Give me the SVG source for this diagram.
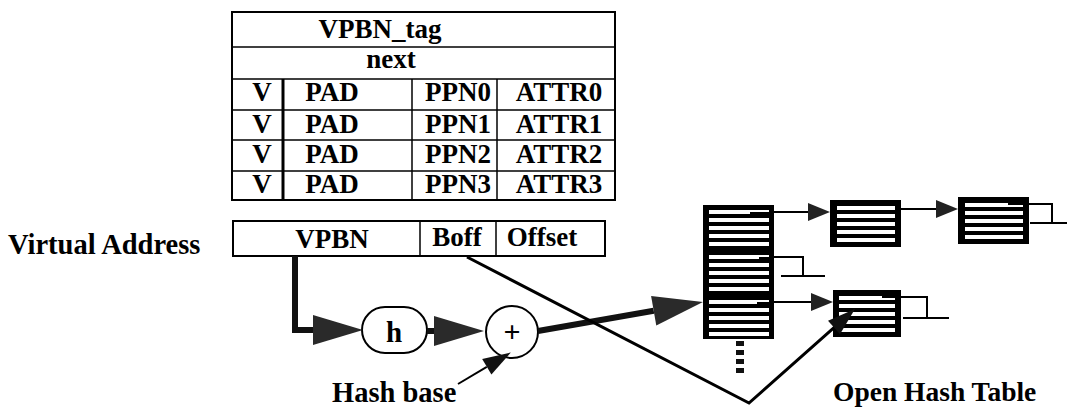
<svg xmlns="http://www.w3.org/2000/svg" width="1067" height="408" viewBox="0 0 1067 408">
  <style>
    .t { font-family: "Liberation Serif", "Times New Roman", serif; font-weight: bold; font-size: 27px; fill: #000; }
    .m { text-anchor: middle; }
    .box { fill: #fff; stroke: #000; stroke-width: 2; }
    .ln { fill: none; stroke: #000; stroke-width: 1.5; }
    .blk { fill: #000; }
    .str { fill: #fff; }
    .thick { fill: none; stroke: #111; stroke-width: 6; }
    .thin { fill: none; stroke: #000; stroke-width: 2; }
  </style>
  <defs>
    <marker id="bigArrow" markerUnits="userSpaceOnUse" markerWidth="50" markerHeight="30" refX="0" refY="15" orient="auto" overflow="visible">
      <path d="M0,0 L50,15 L0,30 Z" fill="#2a2a2a"/>
    </marker>
    <marker id="smallArrow" markerUnits="userSpaceOnUse" markerWidth="22" markerHeight="18" refX="0" refY="9" orient="auto" overflow="visible">
      <path d="M0,0 L22,9 L0,18 Z" fill="#222"/>
    </marker>
    <marker id="thinArrow" markerUnits="userSpaceOnUse" markerWidth="28" markerHeight="18" refX="0" refY="9" orient="auto" overflow="visible">
      <path d="M0,0 L28,9 L0,18 Z" fill="#111"/>
    </marker>
  </defs>

  <g id="pte-table">
    <rect class="box" x="232" y="12" width="383" height="188"/>
    <line class="ln" x1="232" y1="47" x2="615" y2="47"/>
    <line class="ln" x1="232" y1="79" x2="615" y2="79"/>
    <line class="ln" x1="232" y1="110" x2="615" y2="110"/>
    <line class="ln" x1="232" y1="140" x2="615" y2="140"/>
    <line class="ln" x1="232" y1="171" x2="615" y2="171"/>
    <line class="ln" x1="283" y1="79" x2="283" y2="200" style="stroke-width:3"/>
    <line class="ln" x1="412" y1="79" x2="412" y2="200"/>
    <line class="ln" x1="497" y1="79" x2="497" y2="200"/>
    <text class="t m" x="380" y="38">VPBN_tag</text>
    <text class="t m" x="391" y="68">next</text>
    <text class="t m" x="262" y="101">V</text>
    <text class="t m" x="332" y="101">PAD</text>
    <text class="t m" x="458" y="101">PPN0</text>
    <text class="t m" x="559" y="101">ATTR0</text>
    <text class="t m" x="262" y="133">V</text>
    <text class="t m" x="332" y="133">PAD</text>
    <text class="t m" x="458" y="133">PPN1</text>
    <text class="t m" x="559" y="133">ATTR1</text>
    <text class="t m" x="262" y="163">V</text>
    <text class="t m" x="332" y="163">PAD</text>
    <text class="t m" x="458" y="163">PPN2</text>
    <text class="t m" x="559" y="163">ATTR2</text>
    <text class="t m" x="262" y="193">V</text>
    <text class="t m" x="332" y="193">PAD</text>
    <text class="t m" x="458" y="193">PPN3</text>
    <text class="t m" x="559" y="193">ATTR3</text>
  </g>

  <g id="virtual-address-label">
    <text class="t" x="8" y="254" style="font-size:28.5px">Virtual Address</text>
  </g>

  <g id="virtual-address">
    <rect class="box" x="233" y="221" width="372" height="35"/>
    <line class="ln" x1="420" y1="221" x2="420" y2="256"/>
    <line class="ln" x1="496" y1="221" x2="496" y2="256"/>
    <text class="t m" x="332" y="248">VPBN</text>
    <text class="t m" x="457" y="246">Boff</text>
    <text class="t m" x="542" y="246">Offset</text>
  </g>

  <g id="hash-function">
    <rect class="box" x="362" y="307" width="65" height="46" rx="23" ry="23"/>
    <text class="t m" x="394" y="342" style="font-size:29px">h</text>
  </g>

  <g id="adder">
    <circle class="box" cx="512" cy="332" r="26"/>
    <text class="t m" x="512" y="342" style="font-size:30px">+</text>
  </g>

  <g id="hash-base-label">
    <text class="t" x="332" y="402" style="font-size:28.5px">Hash base</text>
  </g>

  <g id="bucket-array">
    <rect class="blk" x="703" y="205" width="71" height="134"/>
    <rect class="str" x="709" y="210" width="60" height="4"/>
    <rect class="str" x="709" y="218" width="60" height="4"/>
    <rect class="str" x="709" y="226" width="60" height="4"/>
    <rect class="str" x="709" y="234" width="60" height="4"/>
    <rect class="str" x="709" y="242" width="60" height="4"/>
    <rect class="str" x="709" y="255" width="60" height="4"/>
    <rect class="str" x="709" y="263" width="60" height="4"/>
    <rect class="str" x="709" y="271" width="60" height="4"/>
    <rect class="str" x="709" y="279" width="60" height="4"/>
    <rect class="str" x="709" y="287" width="60" height="4"/>
    <rect class="str" x="709" y="300" width="60" height="4"/>
    <rect class="str" x="709" y="308" width="60" height="4"/>
    <rect class="str" x="709" y="316" width="60" height="4"/>
    <rect class="str" x="709" y="324" width="60" height="4"/>
    <rect class="str" x="709" y="332" width="60" height="4"/>
    <rect class="blk" x="750" y="212" width="19" height="2"/>
    <rect class="blk" x="759" y="257" width="10" height="2"/>
    <rect class="blk" x="757" y="302" width="12" height="2"/>
    <line x1="740" y1="341" x2="740" y2="376" stroke="#111" stroke-width="8" stroke-dasharray="5 4"/>
  </g>

  <g id="chain-node-1">
    <rect class="blk" x="830" y="200" width="71" height="47"/>
    <rect class="str" x="837" y="206" width="58" height="4"/>
    <rect class="str" x="837" y="214" width="58" height="4"/>
    <rect class="str" x="837" y="222" width="58" height="4"/>
    <rect class="str" x="837" y="230" width="58" height="4"/>
    <rect class="str" x="837" y="238" width="58" height="4"/>
  </g>

  <g id="chain-node-2">
    <rect class="blk" x="958" y="197" width="71" height="47"/>
    <rect class="str" x="965" y="203" width="58" height="4"/>
    <rect class="str" x="965" y="211" width="58" height="4"/>
    <rect class="str" x="965" y="219" width="58" height="4"/>
    <rect class="str" x="965" y="227" width="58" height="4"/>
    <rect class="str" x="965" y="235" width="58" height="4"/>
    <rect class="blk" x="1008" y="203" width="16" height="2"/>
  </g>

  <g id="chain-node-3">
    <rect class="blk" x="833" y="290" width="68" height="47"/>
    <rect class="str" x="839" y="296" width="56" height="4"/>
    <rect class="str" x="839" y="304" width="56" height="4"/>
    <rect class="str" x="839" y="312" width="56" height="4"/>
    <rect class="str" x="839" y="320" width="56" height="4"/>
    <rect class="str" x="839" y="328" width="56" height="4"/>
    <rect class="blk" x="882" y="296" width="13" height="2"/>
  </g>

  <g id="open-hash-table-label">
    <text class="t" x="833" y="401" style="font-size:27.5px">Open Hash Table</text>
  </g>

  <g id="connectors">
    <path class="thick" d="M295,256 V330 H313" marker-end="url(#bigArrow)"/>
    <path class="thick" d="M427,331 H434" marker-end="url(#bigArrow)"/>
    <path class="thick" d="M538,331 L653.7,310.7" marker-end="url(#bigArrow)"/>
    <path class="thin" d="M458,384 L486.8,366.8" marker-end="url(#thinArrow)"/>
    <path fill="none" stroke="#000" stroke-width="3" d="M467,257 L749,403 L834,327.6" marker-end="url(#thinArrow)"/>
    <path class="thin" d="M774,212 H808" marker-end="url(#smallArrow)"/>
    <path class="thin" d="M901,209 H936" marker-end="url(#smallArrow)"/>
    <path class="thin" d="M774,302 H811" marker-end="url(#smallArrow)"/>
    <path class="thin" d="M1029,204 H1052 V223"/>
    <line class="thin" x1="1030" y1="223" x2="1067" y2="223"/>
    <path class="thin" d="M774,257 H803 V276"/>
    <line class="thin" x1="781" y1="276" x2="825" y2="276"/>
    <path class="thin" d="M901,297 H927 V318"/>
    <line class="thin" x1="903" y1="318" x2="949" y2="318"/>
  </g>
</svg>
